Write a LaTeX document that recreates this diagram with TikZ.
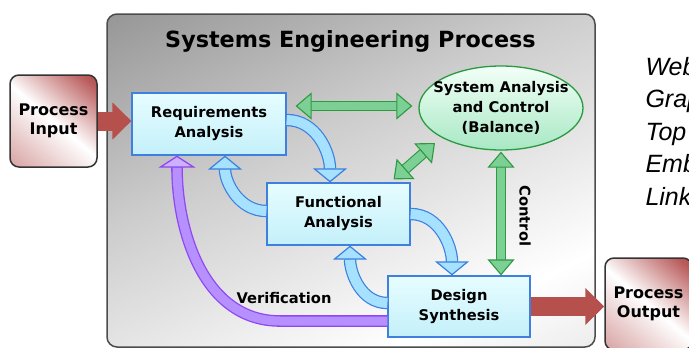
\documentclass[tikz,border=0pt]{standalone}
\usepackage{fontspec}
\setmainfont{DejaVu Sans}
\newfontfamily\sidefont{Liberation Sans}
\usetikzlibrary{arrows.meta,shapes.geometric}

\definecolor{boxline}{HTML}{3F7FE0}
\definecolor{boxtop}{HTML}{E6FDFF}
\definecolor{boxbot}{HTML}{C4F0FA}
\definecolor{ovalline}{HTML}{2A9A40}
\definecolor{ovaltop}{HTML}{F2FFF7}
\definecolor{ovalbot}{HTML}{A8E8C4}
\definecolor{procred}{HTML}{A83232}
\definecolor{flowred}{HTML}{B5504C}
\definecolor{ctrlline}{HTML}{2E9A3E}
\definecolor{ctrlfill}{HTML}{7CD096}
\definecolor{loopline}{HTML}{3A80E0}
\definecolor{loopfill}{HTML}{A6E2FF}
\definecolor{verline}{HTML}{9046F2}
\definecolor{verfill}{HTML}{B690FF}

\pgfdeclareverticalshading{framebg}{100bp}{color(0bp)=(black!18); color(28bp)=(white); color(58bp)=(black!20); color(100bp)=(black!55)}
\pgfdeclareverticalshading{procglow}{100bp}{color(0bp)=(procred!65); color(50bp)=(white); color(80bp)=(procred!80); color(100bp)=(procred)}

\tikzset{
  stepbox/.style={draw=boxline, line width=1.2pt, top color=boxtop, bottom color=boxbot,
    align=center, inner sep=0pt, font=\fontsize{14.7}{20}\selectfont\bfseries},
  procbox/.style={draw=black!80, line width=1.5pt, rounded corners=9pt, shading=procglow,
    shading angle=-40, minimum width=87pt, minimum height=92pt, align=center,
    font=\fontsize{16}{19}\selectfont\bfseries},
  ovalbox/.style={ellipse, draw=ovalline, line width=1.3pt, top color=ovaltop, bottom color=ovalbot,
    align=center, inner xsep=-10pt, inner ysep=0pt, minimum width=164pt, minimum height=84pt,
    font=\fontsize{14.7}{20}\selectfont\bfseries},
  label/.style={font=\fontsize{14.7}{20}\selectfont\bfseries},
  sidetext/.style={font=\sidefont\itshape\fontsize{25}{30}\selectfont},
  flowarrow/.style={flowred, line width=19pt, -{Triangle[length=19pt, width=36pt]}},
  ctrlarrow/.style={draw=ctrlline, line width=1.1pt, double=ctrlfill, double distance=8.5pt,
    {Triangle[length=16pt, width=27pt, fill=ctrlfill, line width=1.1pt]}-{Triangle[length=16pt, width=27pt, fill=ctrlfill, line width=1.1pt]}},
  looparrow/.style={draw=loopline, line width=1.2pt, double=loopfill, double distance=10pt,
    -{Triangle[length=14pt, width=34pt, fill=loopfill, line width=1.2pt]}},
  veriarrow/.style={draw=verline, line width=1.3pt, double=verfill, double distance=9pt,
    -{Triangle[length=12pt, width=37pt, fill=verfill!70!white, line width=1.3pt]}}
}

\begin{document}
\begin{tikzpicture}[x=1pt, y=-1pt]
  \path[use as bounding box] (0,0) rectangle (689,348);
  \clip (0,0) rectangle (689,348);

  % Process frame
  \draw[black!70, line width=1.5pt, rounded corners=10pt, shading=framebg, shading angle=25]
    (107,14) rectangle (595,347);
  \node[font=\fontsize{22.3}{24}\selectfont\bfseries, anchor=base] (title) at (350.5,47)
    {Systems Engineering Process};

  % Steps
  \node[procbox] (input) at (53.5,121) {Process\\Input};
  \node[procbox] (output) at (648.5,304) {Process\\Output};
  \node[stepbox, minimum width=154pt, minimum height=62pt] (req) at (209,124) {Requirements\\Analysis};
  \node[stepbox, minimum width=143pt, minimum height=62pt] (func) at (338.5,214) {Functional\\Analysis};
  \node[stepbox, minimum width=142pt, minimum height=61pt] (design) at (459,306.5) {Design\\Synthesis};
  \node[ovalbox] (sac) at (501,108) {System Analysis\\and Control\\(Balance)};

  % Input and output
  \draw[flowarrow] (input.east) -- (input.east -| req.west);
  \draw[flowarrow] (design.east) -- (design.east -| output.west);

  % Control links
  \draw[ctrlarrow, shorten <=9pt, shorten >=6pt] ([yshift=18pt]req.east) -- ([yshift=18pt]req.east -| sac.west);
  \draw[ctrlarrow] ([xshift=-17pt,yshift=3pt]func.north east) -- ([shift={(-66,35)}]sac.center);
  \draw[ctrlarrow, shorten <=1pt] (sac.south) -- (sac.south |- design.north);
  \node[label, rotate=-90] (ctrl) at (525,216) {Control};

  % Iteration loops
  \draw[looparrow] ([yshift=4pt]req.east) to[out=0, in=90] ([xshift=-8.5pt]func.north);
  \draw[looparrow] ([yshift=3pt]func.west) to[out=180, in=270] ([xshift=16pt]req.south);
  \draw[looparrow] (func.east) to[out=0, in=90] ([xshift=-7pt]design.north);
  \draw[looparrow] ([yshift=3.5pt]design.west) to[out=180, in=270] ([xshift=11.5pt]func.south);

  % Verification
  \coordinate (vbend) at (280,321);
  \draw[veriarrow] ([yshift=-14.5pt]design.west) -- (vbend) to[out=180, in=270] ([xshift=-32pt]req.south);
  \node[label] (veri) at (284,298) {Verification};

  % Side text
  \foreach \w [count=\i from 0] in {Web,Grap,Top,Emb,Link}
    \node[sidetext, anchor=base west] (side\i) at (642,{75+32.5*\i}) {\w};
\end{tikzpicture}
\end{document}
